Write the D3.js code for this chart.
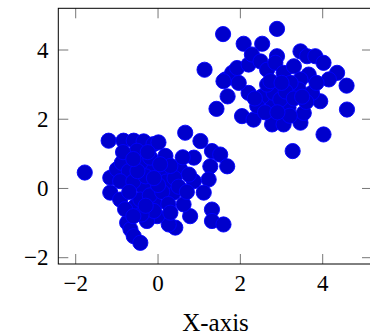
<!DOCTYPE html>
<html>
<head>
<meta charset="utf-8">
<script src="https://cdn.jsdelivr.net/npm/d3@7"></script>
<style>
  body { margin: 0; background: #fff; }
  svg { display: block; }
</style>
</head>
<body>
<div id="chart"></div>
<script>
// cluster A (lower left)
const clusterAX = [-1.78,-1.20,-0.84,-0.59,-0.35,-0.11,-0.51,0.66,1.03,0.87,1.31,1.51,1.68,1.27,1.23,0.54,0.87,1.11,1.31,1.31,1.59,0.78,0.42,0.26,-0.02,-0.27,-0.75,-0.67,-0.59,-0.43,-1.16,-1.16,-0.92,-1.00,-0.88,-0.71,-0.92,-0.35,-0.55,-0.43,-0.07,0.38,0.62,-0.19,0.10,-0.43,-0.19,0.01,0.18,0.20,-0.60,-0.20,0.10,0.40,-0.70,-0.30,0.00,-0.50,0.30,-0.85,0.50,-0.10,0.25,-0.40,-0.80,0.75,-0.25,0.05,0.70,-0.60,-0.10,0.30,-0.60,0.60,-0.30];
const clusterAY = [0.46,1.38,1.38,1.38,1.36,1.28,1.09,1.61,1.37,0.89,1.08,0.98,0.64,0.64,0.26,0.55,0.21,-0.12,-0.61,-0.94,-1.04,-0.80,-1.13,-1.04,-0.80,-0.94,-0.99,-1.18,-1.38,-1.57,0.31,-0.12,-0.32,0.55,0.74,0.50,0.21,0.02,-0.51,-0.32,-0.46,-0.12,-0.46,0.55,0.45,0.74,0.89,1.33,0.94,0.20,0.20,-0.20,-0.10,0.30,-0.10,0.35,0.10,0.50,0.65,1.05,0.05,-0.65,-0.45,-0.75,-0.60,0.40,1.05,0.70,-0.10,0.85,0.30,-0.70,-0.80,0.90,-0.50];
// cluster B (upper right)
const clusterBX = [1.58,2.89,2.08,2.53,1.13,3.46,3.62,3.82,4.02,4.35,4.15,4.58,4.59,4.02,3.27,1.42,1.69,2.04,2.32,2.77,3.05,3.46,3.54,3.94,3.17,2.79,2.53,2.20,1.64,1.80,1.92,2.20,2.28,2.49,2.65,2.89,2.85,3.05,3.30,3.66,3.46,3.42,3.74,2.81,2.65,1.96,2.73,3.22,2.97,2.41,1.59,3.60,3.10,2.60,3.30,3.85,3.00,3.50,2.35,3.20,2.90];
const clusterBY = [4.46,4.61,4.18,4.18,3.43,3.96,3.82,3.82,3.63,3.34,3.15,2.97,2.28,1.56,1.08,2.30,2.66,2.09,1.99,1.85,1.85,1.90,2.18,2.52,2.33,2.47,2.66,2.76,3.15,3.34,3.48,3.58,3.87,3.67,3.43,3.82,3.63,3.34,3.53,3.29,3.15,2.86,2.76,2.76,3.00,3.05,3.10,3.05,2.57,2.38,3.10,2.50,2.80,2.20,2.60,3.05,3.05,2.65,2.60,2.10,2.20];

const xTicks = [-2, 0, 2, 4];
const yTicks = [-2, 0, 2, 4];
const xLabel = "X-axis";

const width = 370, height = 336;
const box = { left: 58.3, right: 372, top: 8.3, bottom: 264 };

const points = clusterAX.map((x, i) => [x, clusterAY[i]])
  .concat(clusterBX.map((x, i) => [x, clusterBY[i]]));

const svg = d3.select("#chart").append("svg")
  .attr("width", width)
  .attr("height", height);

const xScale = d3.scaleLinear().domain([-2, 4]).range([75.7, 322.7]);
const yScale = d3.scaleLinear().domain([-2, 4]).range([257.7, 50]);

const font = "'Liberation Serif', 'DejaVu Serif', serif";
const fmt = d => d < 0 ? "\u2212" + Math.abs(d) : String(d);
const tickLen = 10;

// ticks on all four sides (pointing inward)
const ticks = svg.append("g").attr("stroke", "#777").attr("stroke-width", 1);
xTicks.forEach(t => {
  const x = xScale(t);
  ticks.append("line").attr("x1", x).attr("x2", x).attr("y1", box.bottom).attr("y2", box.bottom - tickLen);
  ticks.append("line").attr("x1", x).attr("x2", x).attr("y1", box.top).attr("y2", box.top + tickLen);
});
yTicks.forEach(t => {
  const y = yScale(t);
  ticks.append("line").attr("x1", box.left).attr("x2", box.left + tickLen).attr("y1", y).attr("y2", y);
  ticks.append("line").attr("x1", box.right).attr("x2", box.right - tickLen).attr("y1", y).attr("y2", y);
});

// points
svg.append("g").selectAll("circle")
  .data(points)
  .enter().append("circle")
  .attr("cx", d => xScale(d[0]))
  .attr("cy", d => yScale(d[1]))
  .attr("r", 7.6)
  .attr("fill", "#0000cc")
  .attr("stroke", "#0000ff")
  .attr("stroke-width", 0.9);

// axis box
svg.append("rect")
  .attr("x", box.left).attr("y", box.top)
  .attr("width", box.right - box.left).attr("height", box.bottom - box.top)
  .attr("fill", "none").attr("stroke", "#000").attr("stroke-width", 1);

// tick labels
svg.append("g").selectAll("text")
  .data(xTicks)
  .enter().append("text")
  .attr("x", d => xScale(d))
  .attr("y", 291)
  .attr("text-anchor", "middle")
  .attr("font-family", font)
  .attr("font-size", 23)
  .text(fmt);

svg.append("g").selectAll("text")
  .data(yTicks)
  .enter().append("text")
  .attr("x", 48.5)
  .attr("y", d => yScale(d) + 7.5)
  .attr("text-anchor", "end")
  .attr("font-family", font)
  .attr("font-size", 23)
  .text(fmt);

svg.append("text")
  .attr("x", 215.5)
  .attr("y", 331)
  .attr("text-anchor", "middle")
  .attr("font-family", font)
  .attr("font-size", 25)
  .text(xLabel);
</script>
</body>
</html>
